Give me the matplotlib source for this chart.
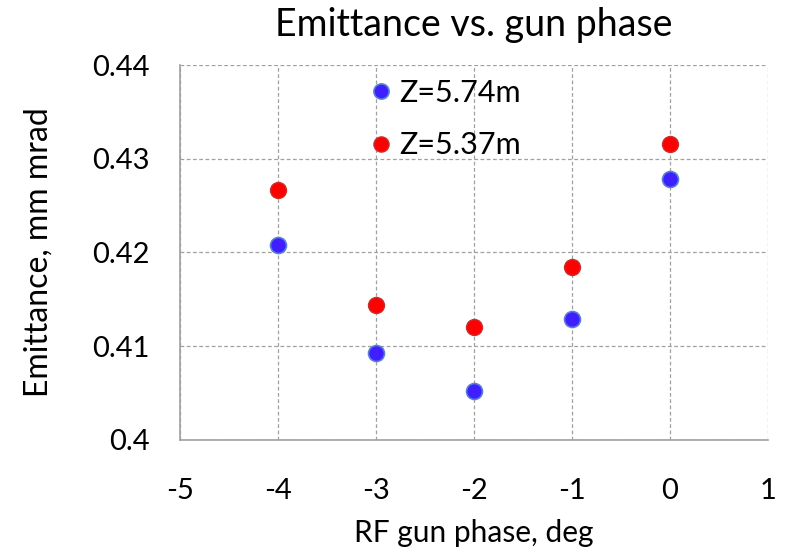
import matplotlib
matplotlib.use("Agg")
import matplotlib.pyplot as plt

plt.rcParams["font.family"] = ["Lato", "DejaVu Sans"]

phase = [-4, -3, -2, -1, 0]
emit_574 = [0.4208, 0.4093, 0.4052, 0.4129, 0.4278]
emit_537 = [0.4267, 0.4144, 0.4121, 0.4185, 0.4316]

xticks = [-5, -4, -3, -2, -1, 0, 1]
yticks = [0.40, 0.41, 0.42, 0.43, 0.44]
ytick_labels = ["0.4", "0.41", "0.42", "0.43", "0.44"]

fig = plt.figure(figsize=(7.88, 5.51), dpi=100)
ax = fig.add_axes([0.2284, 0.2015, 0.7462, 0.6805])

ax.plot(phase, emit_574, "o", ms=11.5, color="#3f1fff", mec="#5a7fd8", mew=1.2,
        label="Z=5.74m", zorder=3, clip_on=False)
ax.plot(phase, emit_537, "o", ms=11.5, color="#ff0000", mec="#c83030", mew=1.0,
        label="Z=5.37m", zorder=3, clip_on=False)

ax.set_xlim(-5, 1)
ax.set_ylim(0.40, 0.44)
ax.set_xticks(xticks)
ax.set_xticklabels([str(t) for t in xticks])
ax.set_yticks(yticks)
ax.set_yticklabels(ytick_labels)
ax.tick_params(labelsize=21, length=0)
ax.tick_params(axis="x", pad=27.5)
ax.tick_params(axis="y", pad=22)

ax.grid(True, color="#a0a0a0", linestyle=(0, (3, 2)), linewidth=0.9)
for side in ("top", "right"):
    ax.spines[side].set_visible(False)
for side in ("left", "bottom"):
    ax.spines[side].set_color("#a0a0a0")
    ax.spines[side].set_linewidth(1.2)

ax.set_title("Emittance vs. gun phase", fontsize=27, pad=21)
ax.set_xlabel("RF gun phase, deg", fontsize=21.5, labelpad=10.5)
ax.set_ylabel("Emittance, mm mrad", fontsize=23, labelpad=28)

ax.legend(loc="upper left", bbox_to_anchor=(0.274, 1.036), frameon=False,
          fontsize=22, handlelength=0.8, handletextpad=0.2, labelspacing=0.8,
          markerscale=0.95)

fig.savefig("out.png")
